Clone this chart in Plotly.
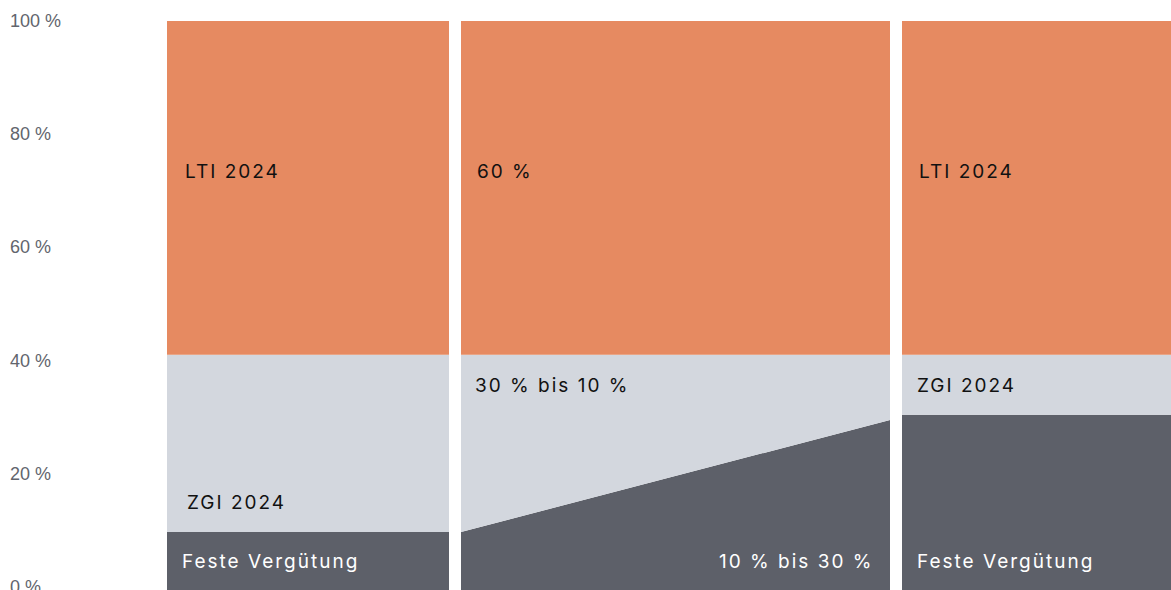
import plotly.graph_objects as go

# ---- data (percent of total compensation) ----
panels = ["links", "Übergang", "rechts"]
fixed_start = [9.7, 9.7, 30.4]      # Feste Vergütung, left edge of panel
fixed_end = [9.7, 29.5, 30.4]       # Feste Vergütung, right edge of panel
zgi_top = [41.0, 41.0, 41.0]        # cumulative top of ZGI
lti_top = [100.0, 100.0, 100.0]     # cumulative top of LTI
y_ticks = [0, 20, 40, 60, 80, 100]
y_tick_labels = ["0 %", "20 %", "40 %", "60 %", "80 %", "100 %"]

lti_labels = ["LTI 2024", "60 %", "LTI 2024"]
zgi_labels = ["ZGI 2024", "30 % bis 10 %", "ZGI 2024"]
fixed_labels = ["Feste Vergütung", "10 % bis 30 %", "Feste Vergütung"]

# ---- layout constants ----
panel_x = [(0, 282), (294, 723), (735, 1004)]
Y_MIN = -0.55   # plot area continues slightly below 0 % (bars run to the bottom edge)
C_LTI = "#E68A61"
C_ZGI = "#D3D7DE"
C_FIX = "#5D6069"
FONT = "Inter"
SPACING = "letter-spacing:2px"

fig = go.Figure()
for i, (x0, x1) in enumerate(panel_x):
    fig.add_trace(go.Scatter(x=[x0, x1, x1, x0, x0],
                             y=[Y_MIN, Y_MIN, fixed_end[i], fixed_start[i], Y_MIN],
                             fill="toself", fillcolor=C_FIX, mode="lines", line=dict(width=0),
                             hoverinfo="skip", showlegend=False))
    fig.add_trace(go.Scatter(x=[x0, x1, x1, x0, x0],
                             y=[fixed_start[i], fixed_end[i], zgi_top[i], zgi_top[i], fixed_start[i]],
                             fill="toself", fillcolor=C_ZGI, mode="lines", line=dict(width=0),
                             hoverinfo="skip", showlegend=False))
    fig.add_trace(go.Scatter(x=[x0, x1, x1, x0, x0],
                             y=[zgi_top[i], zgi_top[i], lti_top[i], lti_top[i], zgi_top[i]],
                             fill="toself", fillcolor=C_LTI, mode="lines", line=dict(width=0),
                             hoverinfo="skip", showlegend=False))

annotations = []
for v, t in zip(y_ticks, y_tick_labels):
    annotations.append(dict(x=-159 / 1004, xref="paper", y=v, yref="y", text=t, showarrow=False,
                            xanchor="left", yanchor="middle",
                            font=dict(family="Liberation Sans", size=18, color="#62656D")))

def lab(x, y, text, color, xanchor="left"):
    annotations.append(dict(x=x, y=y, xref="x", yref="y",
                            text=f'<span style="{SPACING}">{text}</span>', showarrow=False,
                            xanchor=xanchor, yanchor="middle",
                            font=dict(family=FONT, size=19, color=color)))

lab(panel_x[0][0] + 16, 73.4, lti_labels[0], "#111111")
lab(panel_x[0][0] + 18, 15.0, zgi_labels[0], "#111111")
lab(panel_x[0][0] + 13, 4.5, fixed_labels[0], "#FFFFFF")
lab(panel_x[1][0] + 14, 73.4, lti_labels[1], "#111111")
lab(panel_x[1][0] + 12, 35.6, zgi_labels[1], "#111111")
lab(panel_x[1][1] - 15, 4.5, fixed_labels[1], "#FFFFFF", xanchor="right")
lab(panel_x[2][0] + 15, 73.4, lti_labels[2], "#111111")
lab(panel_x[2][0] + 13, 35.6, zgi_labels[2], "#111111")
lab(panel_x[2][0] + 13, 4.5, fixed_labels[2], "#FFFFFF")

fig.update_layout(
    width=1171, height=590,
    margin=dict(l=167, r=0, t=21, b=0),
    paper_bgcolor="white", plot_bgcolor="white",
    xaxis=dict(range=[0, 1004], visible=False, fixedrange=True),
    yaxis=dict(range=[Y_MIN, 100], visible=False, fixedrange=True),
    annotations=annotations,
    showlegend=False,
)
fig.write_html("out.html", config={"displayModeBar": False},
               post_script="document.body.style.margin='0';document.body.style.overflow='hidden';")
